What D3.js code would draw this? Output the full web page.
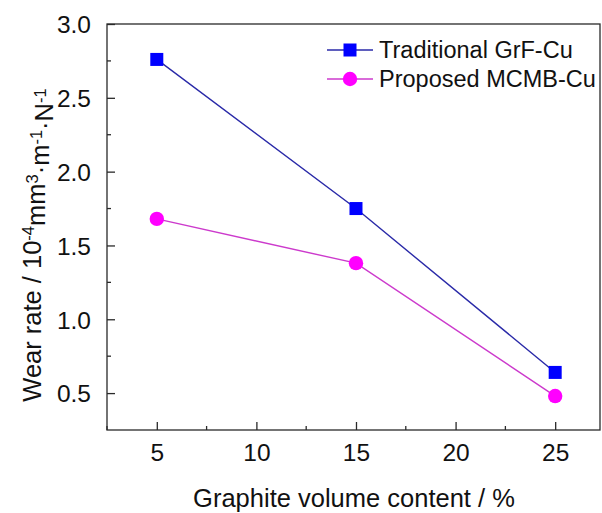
<!DOCTYPE html>
<html>
<head>
<meta charset="utf-8">
<script src="https://cdn.jsdelivr.net/npm/d3@7"></script>
<style>
  body { margin: 0; background: #fff; }
  svg { font-family: "Liberation Sans", Arial, sans-serif; }
</style>
</head>
<body>
<div id="chart"></div>
<script>
// data
const graphite = [5, 15, 25];
const grfCu = [2.76, 1.75, 0.64];
const mcmbCu = [1.68, 1.38, 0.48];
const xTicks = [5, 10, 15, 20, 25];
const yTicks = [0.5, 1.0, 1.5, 2.0, 2.5, 3.0];
const seriesNames = ["Traditional GrF-Cu", "Proposed MCMB-Cu"];

const W = 602, H = 513;
const margin = {top: 24, right: 2, bottom: 83, left: 107};
const width = W - margin.left - margin.right,
      height = H - margin.top - margin.bottom;

const svg = d3.select("#chart")
  .append("svg")
    .attr("width", W)
    .attr("height", H)
  .append("g")
    .attr("transform", `translate(${margin.left},${margin.top})`);

const x = d3.scaleLinear().domain([2.5, 27.25]).range([0, width]);
const y = d3.scaleLinear().domain([0.25, 3.0]).range([height, 0]);

// frame
svg.append("rect")
  .attr("width", width)
  .attr("height", height)
  .attr("fill", "none")
  .attr("stroke", "#2a2a2a")
  .attr("stroke-width", 1.3);

// minor ticks (inside)
const xMinor = [2.5, 7.5, 12.5, 17.5, 22.5];
const yMinor = [0.75, 1.25, 1.75, 2.25, 2.75];

const xAxis = svg.append("g")
  .attr("transform", `translate(0,${height})`)
  .call(d3.axisBottom(x).tickValues(xTicks).tickSize(-8).tickPadding(14).tickFormat(d3.format("d")));
xAxis.append("g").selectAll("line")
  .data(xMinor)
  .join("line")
    .attr("x1", d => x(d)).attr("x2", d => x(d))
    .attr("y1", 0).attr("y2", -4)
    .attr("stroke", "#2a2a2a").attr("stroke-width", 1.3);

const yAxis = svg.append("g")
  .call(d3.axisLeft(y).tickValues(yTicks).tickSize(-8).tickPadding(16).tickFormat(d3.format(".1f")));
yAxis.append("g").selectAll("line")
  .data(yMinor)
  .join("line")
    .attr("x1", 0).attr("x2", 4)
    .attr("y1", d => y(d)).attr("y2", d => y(d))
    .attr("stroke", "#2a2a2a").attr("stroke-width", 1.3);

[xAxis, yAxis].forEach(a => {
  a.select(".domain").remove();
  a.selectAll(".tick line").attr("stroke", "#2a2a2a").attr("stroke-width", 1.3);
  a.selectAll(".tick text")
    .style("font-size", "24.5px")
    .style("font-family", "'Liberation Sans', Arial, sans-serif")
    .attr("fill", "#111");
});
yAxis.selectAll(".tick text").attr("dy", "0.36em");
xAxis.selectAll(".tick text").attr("dy", "0.71em");

// series
const series = [
  {name: seriesNames[0], values: grfCu, line: "#2a2aa8", fill: "#0000ff", shape: "square"},
  {name: seriesNames[1], values: mcmbCu, line: "#cc3acc", fill: "#ff00ff", shape: "circle"}
];

const line = d3.line()
  .x(d => x(d[0]))
  .y(d => y(d[1]));

function drawMarker(g, s, cx, cy) {
  if (s.shape === "square") {
    g.append("rect")
      .attr("x", cx - 6.5).attr("y", cy - 6.5)
      .attr("width", 13).attr("height", 13)
      .attr("fill", s.fill);
  } else {
    g.append("circle")
      .attr("cx", cx).attr("cy", cy).attr("r", 7.2)
      .attr("fill", s.fill);
  }
}

series.forEach(s => {
  const pts = graphite.map((g, i) => [g, s.values[i]]);
  svg.append("path")
    .datum(pts)
    .attr("d", line)
    .attr("fill", "none")
    .attr("stroke", s.line)
    .attr("stroke-width", 1.4);
  const mg = svg.append("g");
  pts.forEach(p => drawMarker(mg, s, x(p[0]), y(p[1])));
});

// legend
const legend = svg.append("g").attr("transform", `translate(${327 - margin.left},${50 - margin.top})`);
series.forEach((s, i) => {
  const g = legend.append("g").attr("transform", `translate(0,${i * 29})`);
  g.append("line")
    .attr("x1", 0).attr("x2", 46)
    .attr("y1", 0).attr("y2", 0)
    .attr("stroke", s.line)
    .attr("stroke-width", 1.4);
  drawMarker(g, s, 23, 0);
  g.append("text")
    .attr("x", 52)
    .attr("y", 0)
    .attr("dy", "0.36em")
    .style("font-size", "23.5px")
    .attr("fill", "#111")
    .text(s.name);
});

// axis titles
svg.append("text")
  .attr("x", (193 + 515) / 2 - margin.left)
  .attr("y", 507 - margin.top)
  .attr("text-anchor", "middle")
  .style("font-size", "25.5px")
  .attr("fill", "#111")
  .text("Graphite volume content / %");

const yt = svg.append("text")
  .attr("transform", `translate(${41 - margin.left},${245 - margin.top}) rotate(-90)`)
  .attr("text-anchor", "middle")
  .style("font-size", "25.5px")
  .attr("fill", "#111");
yt.append("tspan").text("Wear rate / 10");
yt.append("tspan").attr("dy", "-0.45em").style("font-size", "16.5px").text("-4");
yt.append("tspan").attr("dy", "0.45em").text("mm");
yt.append("tspan").attr("dy", "-0.45em").style("font-size", "16.5px").text("3");
yt.append("tspan").attr("dy", "0.45em").text("·m");
yt.append("tspan").attr("dy", "-0.45em").style("font-size", "16.5px").text("-1");
yt.append("tspan").attr("dy", "0.45em").text("·N");
yt.append("tspan").attr("dy", "-0.45em").style("font-size", "16.5px").text("-1");
</script>
</body>
</html>
